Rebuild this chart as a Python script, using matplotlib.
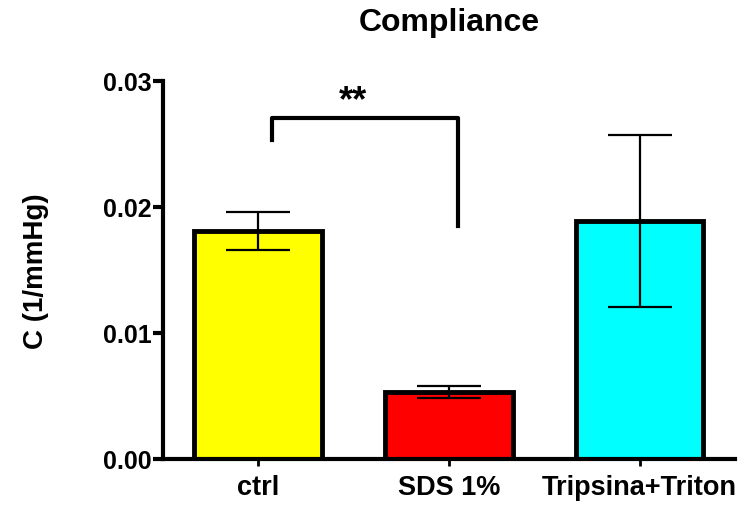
import numpy as np
import matplotlib
matplotlib.use("Agg")
import matplotlib.pyplot as plt

plt.rcParams["font.family"] = ["Liberation Sans", "DejaVu Sans"]
plt.rcParams["font.weight"] = "bold"

groups = ["ctrl", "SDS 1%", "Tripsina+Triton"]
means = [0.0181, 0.0053, 0.0189]
sems = [0.0015, 0.0005, 0.0068]
colors = ["#ffff00", "#ff0000", "#00ffff"]

y_ticks = [0.00, 0.01, 0.02, 0.03]
y_tick_labels = ["0.00", "0.01", "0.02", "0.03"]

# significance bracket between ctrl and SDS 1%
bracket_x = [0.07, 1.05]
bracket_top = 0.0271
bracket_legs = [0.0253, 0.0185]
sig_label = "**"

fig = plt.figure(figsize=(7.56, 5.06), dpi=100)
ax = fig.add_axes([0.2156, 0.091, 0.7564, 0.747])

x = np.arange(len(groups))
ax.bar(x, means, width=0.67, color=colors, edgecolor="black", linewidth=3.5, zorder=2)
ax.errorbar(x, means, yerr=sems, fmt="none", ecolor="black", elinewidth=1.6,
            capsize=23, capthick=1.6, zorder=3)

ax.plot([bracket_x[0], bracket_x[0], bracket_x[1], bracket_x[1]],
        [bracket_legs[0], bracket_top, bracket_top, bracket_legs[1]],
        color="black", linewidth=3, solid_joinstyle="round", zorder=3)
ax.text(np.mean(bracket_x) - 0.065, 0.0284, sig_label, ha="center", va="center",
        fontsize=26, fontweight="bold")

ax.set_xlim(-0.5, 2.5)
ax.set_ylim(0, 0.03)
ax.set_yticks(y_ticks)
ax.set_yticklabels(y_tick_labels, fontsize=18, fontweight="bold")
ax.set_xticks(x)
ax.set_xticklabels(groups, fontsize=19.5, fontweight="bold")

for side in ["top", "right"]:
    ax.spines[side].set_visible(False)
for side in ["left", "bottom"]:
    ax.spines[side].set_linewidth(3)
ax.tick_params(axis="y", length=7, width=3, pad=1)
ax.tick_params(axis="x", length=5, width=2, pad=6)

ax.set_ylabel("C (1/mmHg)", fontsize=20, fontweight="bold")
ax.yaxis.set_label_coords(-0.20, 0.5)
ax.set_title("Compliance", fontsize=23, fontweight="bold", pad=37)

fig.savefig("out.png", dpi=100)
